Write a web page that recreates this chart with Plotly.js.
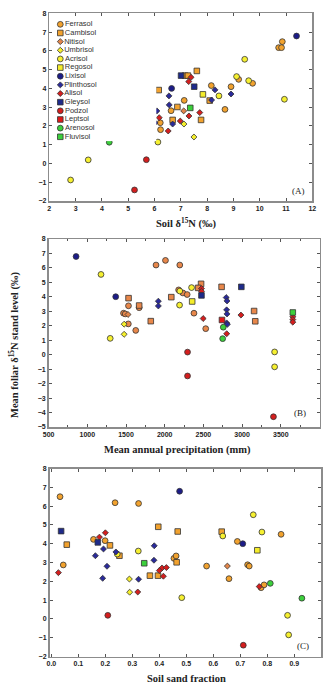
<!DOCTYPE html>
<html><head><meta charset="utf-8">
<script src="https://cdn.plot.ly/plotly-3.0.1.min.js"></script>
<style>html,body{margin:0;padding:0;background:#fff;overflow:hidden}#chart{width:323px;height:684px}</style>
</head><body><div id="chart"></div>
<script>
const soilTypes = ['Ferrasol','Cambisol','Nitisol','Umbrisol','Acrisol','Regosol','Lixisol','Plinthosol','Alisol','Gleysol','Podzol','Leptsol','Arenosol','Fluvisol'];

// Panel A: soil d15N (x) vs mean foliar d15N (y)
const A_Ferrasol = [[10.86,6.49],[10.72,6.17],[10.83,6.17],[5.46,3.24],[7.13,3.36],[5.70,2.88],[5.66,2.81],[6.63,2.81],[6.22,2.17],[6.23,1.80],[5.47,1.66],[8.16,4.15],[8.91,4.09],[9.20,4.48],[9.73,4.27],[8.68,2.88]];
const A_Cambisol = [[5.19,3.95],[6.16,3.91],[7.16,4.68],[7.27,4.68],[7.61,4.93],[6.87,3.01],[7.77,2.32],[6.69,2.32],[8.10,3.35]];
const A_Nitisol = [[7.11,2.80]];
const A_Umbrisol = [[7.12,2.10],[7.50,1.41]];
const A_Acrisol = [[2.81,-0.88],[3.48,0.19],[6.13,1.14],[9.43,5.55],[9.12,4.63],[9.58,4.41],[10.94,3.42],[8.45,3.60]];
const A_Regosol = [[7.84,3.68]];
const A_Lixisol = [[11.40,6.79],[6.65,4.00]];
const A_Plinthosol = [[6.55,3.60],[6.56,3.12],[6.09,2.80],[6.02,2.17],[6.69,2.10],[8.30,3.92],[8.91,3.70],[8.17,3.38]];
const A_Alisol = [[7.39,4.59],[7.30,4.36],[7.72,2.71],[7.31,2.53],[6.18,2.44],[6.98,2.26],[6.52,1.73],[5.87,1.43]];
const A_Gleysol = [[7.01,4.68],[7.51,4.09]];
const A_Podzol = [[5.69,0.20],[5.24,-1.41]];
const A_Leptsol = [];
const A_Arenosol = [[4.59,1.87],[4.28,1.13]];
const A_Fluvisol = [[7.36,2.96]];

// Panel B: mean annual precipitation (x) vs mean foliar d15N (y)
const B_Ferrasol = [[1888,6.20],[2010,6.52],[2195,6.20],[1532,3.38],[1670,3.25],[1468,2.87],[1490,2.82],[1530,2.13],[1626,1.68],[2180,4.48],[2235,4.27],[2290,4.16],[2378,2.87],[2530,1.80]];
const B_Cambisol = [[1533,3.91],[1670,3.40],[1820,2.32],[2085,3.98],[2470,4.90],[2432,4.62],[2735,4.69],[3155,3.02],[3170,2.31]];
const B_Nitisol = [[1526,2.78]];
const B_Umbrisol = [[1476,2.11],[1476,1.41]];
const B_Acrisol = [[1177,5.55],[1296,1.13],[2195,4.40],[2192,3.43],[2347,4.64],[3420,0.19],[3420,-0.84]];
const B_Regosol = [[2355,3.68]];
const B_Lixisol = [[855,6.79],[1367,4.01]];
const B_Plinthosol = [[1918,3.70],[1918,3.37],[2795,3.95],[2805,3.72],[2800,3.10],[2805,2.82],[2800,2.20],[2810,2.10]];
const B_Alisol = [[2475,4.57],[2475,4.38],[2497,2.50],[2985,2.74],[2801,1.45],[3655,2.62],[3655,2.43],[3655,2.25]];
const B_Gleysol = [[2475,4.10],[2990,4.69]];
const B_Podzol = [[2295,0.18],[2295,-1.47],[3405,-4.29]];
const B_Leptsol = [[2740,2.40]];
const B_Arenosol = [[2757,1.90],[2749,1.11]];
const B_Fluvisol = [[3655,2.92]];

// Panel C: soil sand fraction (x) vs mean foliar d15N (y)
const C_Ferrasol = [[0.032,6.50],[0.236,6.18],[0.323,6.14],[0.044,2.87],[0.156,4.23],[0.199,4.16],[0.454,3.22],[0.462,3.35],[0.851,4.50],[0.689,4.12],[0.575,2.81],[0.727,2.88],[0.733,2.81],[0.658,2.14],[0.777,1.66],[0.788,1.81]];
const C_Cambisol = [[0.057,3.95],[0.217,3.91],[0.252,3.36],[0.396,4.90],[0.468,4.65],[0.464,3.01],[0.365,2.30],[0.395,2.30],[0.631,4.64]];
const C_Nitisol = [[0.652,2.81]];
const C_Umbrisol = [[0.289,2.12],[0.290,1.42]];
const C_Acrisol = [[0.244,3.45],[0.322,3.61],[0.483,1.13],[0.748,5.54],[0.635,4.41],[0.780,4.62],[0.875,0.19],[0.879,-0.85]];
const C_Regosol = [[0.763,3.65]];
const C_Lixisol = [[0.475,6.79],[0.709,4.00]];
const C_Plinthosol = [[0.193,3.72],[0.163,3.36],[0.239,3.56],[0.206,2.80],[0.190,2.16],[0.323,2.11],[0.380,3.12],[0.381,3.89]];
const C_Alisol = [[0.026,2.46],[0.178,4.35],[0.200,4.58],[0.320,1.43],[0.410,2.71],[0.426,2.73],[0.400,2.57],[0.415,2.27],[0.770,1.72]];
const C_Gleysol = [[0.036,4.67],[0.172,4.07]];
const C_Podzol = [[0.209,0.19],[0.711,-1.40]];
const C_Leptsol = [];
const C_Arenosol = [[0.811,1.89],[0.928,1.10]];
const C_Fluvisol = [[0.344,2.96]];

const xTitleA = 'Soil δ<sup>15</sup>N (‰)';
const xTitleB = 'Mean annual precipitation (mm)';
const xTitleC = 'Soil sand fraction';
const yTitle = 'Mean foliar δ<sup>15</sup>N stand level (‰)';
const panelLabels = ['(A)','(B)','(C)'];

// ---- styles ----
const W = 323, H = 684;
const symbolOf = {Ferrasol:'circle',Cambisol:'square',Nitisol:'diamond',Umbrisol:'diamond',Acrisol:'circle',Regosol:'square',Lixisol:'circle',Plinthosol:'diamond',Alisol:'diamond',Gleysol:'square',Podzol:'circle',Leptsol:'square',Arenosol:'circle',Fluvisol:'square'};
const colorOf = {Ferrasol:'#F2A22E',Cambisol:'#F2A22E',Nitisol:'#E2854A',Umbrisol:'#F4EE2C',Acrisol:'#F6F030',Regosol:'#F4EC2A',Lixisol:'#1C1C88',Plinthosol:'#2A2A9A',Alisol:'#D41E1E',Gleysol:'#1E2A8A',Podzol:'#D41E1E',Leptsol:'#E01818',Arenosol:'#3CCF3C',Fluvisol:'#3CCF3C'};
const colorB = {Ferrasol:'#E8874A',Cambisol:'#E8874A',Nitisol:'#E2854A'};

const panels = [
  {suffix:'', sets:[A_Ferrasol,A_Cambisol,A_Nitisol,A_Umbrisol,A_Acrisol,A_Regosol,A_Lixisol,A_Plinthosol,A_Alisol,A_Gleysol,A_Podzol,A_Leptsol,A_Arenosol,A_Fluvisol], override:{}},
  {suffix:'2', sets:[B_Ferrasol,B_Cambisol,B_Nitisol,B_Umbrisol,B_Acrisol,B_Regosol,B_Lixisol,B_Plinthosol,B_Alisol,B_Gleysol,B_Podzol,B_Leptsol,B_Arenosol,B_Fluvisol], override:colorB},
  {suffix:'3', sets:[C_Ferrasol,C_Cambisol,C_Nitisol,C_Umbrisol,C_Acrisol,C_Regosol,C_Lixisol,C_Plinthosol,C_Alisol,C_Gleysol,C_Podzol,C_Leptsol,C_Arenosol,C_Fluvisol], override:{}}
];

function mk(name, override){
  const sym = symbolOf[name];
  return {symbol:sym, size: sym==='diamond'?4.6:(sym==='square'?5.6:5.8), color:(override&&override[name])||colorOf[name], line:{color:'#333', width:0.8}};
}

const traces = [];
panels.forEach(p=>{
  soilTypes.forEach((name,i)=>{
    const d = p.sets[i];
    if(!d.length) return;
    traces.push({type:'scatter', mode:'markers', name:name, x:d.map(v=>v[0]), y:d.map(v=>v[1]),
      xaxis:'x'+p.suffix, yaxis:'y'+p.suffix, marker:mk(name,p.override), showlegend:false, hoverinfo:'skip', cliponaxis:true});
  });
});
// legend drawn inside panel A
soilTypes.forEach((name,i)=>{
  traces.push({type:'scatter', mode:'markers+text', x:[0], y:[i], text:[name], textposition:'middle right',
    textfont:{family:'Liberation Sans, Arial, sans-serif', size:7.5, color:'#333'},
    xaxis:'x4', yaxis:'y4', marker:mk(name,{}), showlegend:false, hoverinfo:'skip', cliponaxis:false});
});

const common = {showline:true, linecolor:'#8c8c8c', linewidth:1.5, mirror:'allticks', ticks:'inside', ticklen:3, tickwidth:1, tickcolor:'#555',
  showgrid:false, zeroline:false, fixedrange:true,
  tickfont:{family:'Liberation Sans, Arial, sans-serif', size:7, color:'#222', weight:'bold'}};
const px = (a,b)=>[a/W,b/W];
const py = (top,bot)=>[1-bot/H, 1-top/H];

const layout = {
  width:W, height:H, margin:{l:0,r:0,t:0,b:0}, paper_bgcolor:'#fff', plot_bgcolor:'#fff', showlegend:false,
  xaxis: Object.assign({}, common, {domain:px(49.3,312.3), range:[2,12], dtick:1, anchor:'y'}),
  yaxis: Object.assign({}, common, {domain:py(13.3,201), range:[-2,8], dtick:1, anchor:'x'}),
  xaxis2: Object.assign({}, common, {domain:px(48.6,319.5), range:[500,4000], dtick:500, anchor:'y2', minor:{dtick:250, ticks:'inside', ticklen:2, tickcolor:'#555'}}),
  yaxis2: Object.assign({}, common, {domain:py(239,427), range:[-5,8], dtick:1, anchor:'x2'}),
  xaxis3: Object.assign({}, common, {domain:px(49.5,321.3), range:[-0.007,1.0], tick0:0, dtick:0.1, tickformat:'.1f', anchor:'y3'}),
  yaxis3: Object.assign({}, common, {domain:py(468.5,656.5), range:[-2,8], dtick:1, anchor:'x3'}),
  xaxis4: {domain:px(56.3,156.3), range:[-0.4,9.6], visible:false, anchor:'y4', fixedrange:true},
  yaxis4: {domain:py(20,141.1), range:[13.5,-0.5], visible:false, anchor:'x4', fixedrange:true},
  annotations: []
};
const serifBold = {family:'Liberation Serif, Times New Roman, serif', size:10.5, color:'#222', weight:'bold'};
const serif = {family:'Liberation Serif, Times New Roman, serif', size:9, color:'#222'};
function ann(text,x,y,font,extra){
  layout.annotations.push(Object.assign({text:text, xref:'paper', yref:'paper', x:x/W, y:1-y/H, xanchor:'center', yanchor:'middle', showarrow:false, font:font}, extra||{}));
}
ann(xTitleA, 186, 223, serifBold);
ann(xTitleB, 177, 450, serifBold);
ann(xTitleC, 186, 678, serifBold);
ann(yTitle, 14, 345, serifBold, {textangle:-90});
ann(panelLabels[0], 298, 191, serif);
ann(panelLabels[1], 300, 413, serif);
ann(panelLabels[2], 303, 646, serif);

Plotly.newPlot('chart', traces, layout, {staticPlot:true, displayModeBar:false});
</script>
</body></html>
